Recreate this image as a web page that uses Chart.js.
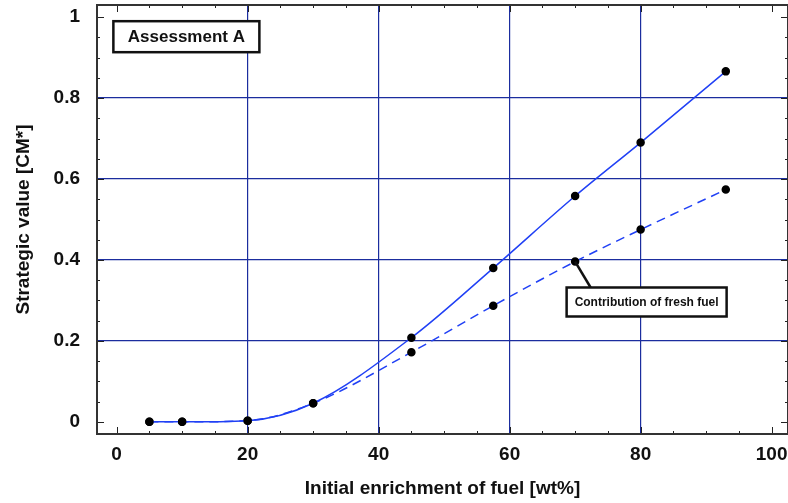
<!DOCTYPE html>
<html>
<head>
<meta charset="utf-8">
<script src="https://cdn.jsdelivr.net/npm/chart.js@4.4.1/dist/chart.umd.min.js"></script>
<style>
  body { margin: 0; background: #fff; }
  #wrap { width: 788px; height: 503px; }
</style>
</head>
<body>
<div id="wrap"><canvas id="chart"></canvas></div>
<script>
// enrichment in wt%, strategic value in CM*
const enrichment = [5, 10, 20, 30, 45, 57.5, 70, 80, 93];
const totalValue = [0, 0, 0.003, 0.046, 0.208, 0.38, 0.558, 0.69, 0.866];
const freshValue = [0, 0, 0.003, 0.046, 0.172, 0.287, 0.396, 0.475, 0.574];

const FONT = "'Liberation Sans', Arial, sans-serif";
const lineBlue = '#2040f5';
const gridBlue = '#1b2d9e';

function toPoints(ys) {
  return enrichment.map((x, i) => ({ x: x, y: ys[i] }));
}

function box(ctx, x, y, w, h, text, size) {
  ctx.fillStyle = '#fff';
  ctx.fillRect(x, y, w, h);
  ctx.strokeStyle = '#111';
  ctx.lineWidth = 2.5;
  ctx.strokeRect(x, y, w, h);
  ctx.fillStyle = '#111';
  ctx.font = 'bold ' + size + 'px ' + FONT;
  ctx.textAlign = 'center';
  ctx.textBaseline = 'middle';
  ctx.fillText(text, x + w / 2, y + h / 2 + 1);
}

const framePlugin = {
  id: 'frame',
  afterDraw(chart) {
    const { ctx, chartArea: a, scales: { x, y } } = chart;
    ctx.save();
    ctx.strokeStyle = '#222';
    ctx.lineWidth = 1;
    ctx.beginPath();
    for (let v = 0; v <= 100; v += 5) {
      const px = Math.round(x.getPixelForValue(v)) + 0.5;
      const len = v % 20 === 0 ? 7 : 3;
      ctx.moveTo(px, a.bottom); ctx.lineTo(px, a.bottom - len);
      ctx.moveTo(px, a.top); ctx.lineTo(px, a.top + len);
    }
    for (let i = 0; i <= 20; i++) {
      const py = Math.round(y.getPixelForValue(i * 0.05)) + 0.5;
      const len = i % 4 === 0 ? 7 : 3;
      ctx.moveTo(a.left, py); ctx.lineTo(a.left + len, py);
      ctx.moveTo(a.right, py); ctx.lineTo(a.right - len, py);
    }
    ctx.stroke();
    ctx.lineWidth = 2;
    ctx.strokeStyle = '#333';
    ctx.strokeRect(a.left, a.top, a.right - a.left, a.bottom - a.top);

    // label boxes
    box(ctx, x.getPixelForValue(-0.5), y.getPixelForValue(0.99), 146, 31, 'Assessment A', 17);

    const px = x.getPixelForValue(enrichment[6]);
    const py = y.getPixelForValue(freshValue[6]);
    const bx = x.getPixelForValue(68.7);
    const by = y.getPixelForValue(0.332);
    ctx.strokeStyle = '#111';
    ctx.lineWidth = 2.5;
    ctx.beginPath();
    ctx.moveTo(px, py);
    ctx.lineTo(bx + 24, by);
    ctx.stroke();
    box(ctx, bx, by, 160, 29, 'Contribution of fresh fuel', 12);
    ctx.restore();
  }
};

new Chart(document.getElementById('chart'), {
  type: 'line',
  data: {
    datasets: [
      {
        label: 'Total',
        data: toPoints(totalValue),
        borderColor: lineBlue,
        borderWidth: 1.5,
        cubicInterpolationMode: 'monotone',
        pointBackgroundColor: '#000',
        pointBorderColor: '#000',
        pointRadius: 3.5
      },
      {
        label: 'Contribution of fresh fuel',
        data: toPoints(freshValue),
        borderColor: lineBlue,
        borderWidth: 1.5,
        borderDash: [9, 6],
        cubicInterpolationMode: 'monotone',
        pointBackgroundColor: '#000',
        pointBorderColor: '#000',
        pointRadius: 3.5
      }
    ]
  },
  options: {
    responsive: true,
    maintainAspectRatio: false,
    animation: false,
    layout: { autoPadding: false, padding: { top: 5, right: 0, left: 0, bottom: 0 } },
    plugins: { legend: { display: false }, tooltip: { enabled: false } },
    scales: {
      x: {
        type: 'linear',
        min: -3,
        max: 102.5,
        afterFit(s) { s.height = 69; s.paddingLeft = 0; s.paddingRight = 0; },
        ticks: {
          stepSize: 20, includeBounds: false, padding: 9,
          color: '#111', font: { family: FONT, size: 19, weight: 'bold' }
        },
        grid: {
          drawTicks: false,
          lineWidth: 1.2,
          color: c => (c.tick && (c.tick.value === 0 || c.tick.value === 100)) ? 'rgba(0,0,0,0)' : gridBlue
        },
        border: { display: false },
        title: {
          display: true, text: 'Initial enrichment of fuel [wt%]', color: '#111',
          font: { family: FONT, size: 19, weight: 'bold' }, padding: { top: 0, bottom: 3 }
        }
      },
      y: {
        min: -0.03,
        max: 1.03,
        afterFit(s) { s.width = 97; s.paddingTop = 0; s.paddingBottom = 0; },
        ticks: {
          stepSize: 0.2, includeBounds: false, padding: 17,
          color: '#111', font: { family: FONT, size: 19, weight: 'bold' },
          callback: v => String(Number(v.toFixed(2)))
        },
        grid: {
          drawTicks: false,
          lineWidth: 1.2,
          color: c => (c.tick && (Math.abs(c.tick.value) < 1e-6 || Math.abs(c.tick.value - 1) < 1e-6)) ? 'rgba(0,0,0,0)' : gridBlue
        },
        border: { display: false },
        title: {
          display: true, text: 'Strategic value [CM*]', color: '#111',
          font: { family: FONT, size: 19, weight: 'bold' }, padding: { top: 12, bottom: 0 }
        }
      }
    }
  },
  plugins: [framePlugin]
});
</script>
</body>
</html>
